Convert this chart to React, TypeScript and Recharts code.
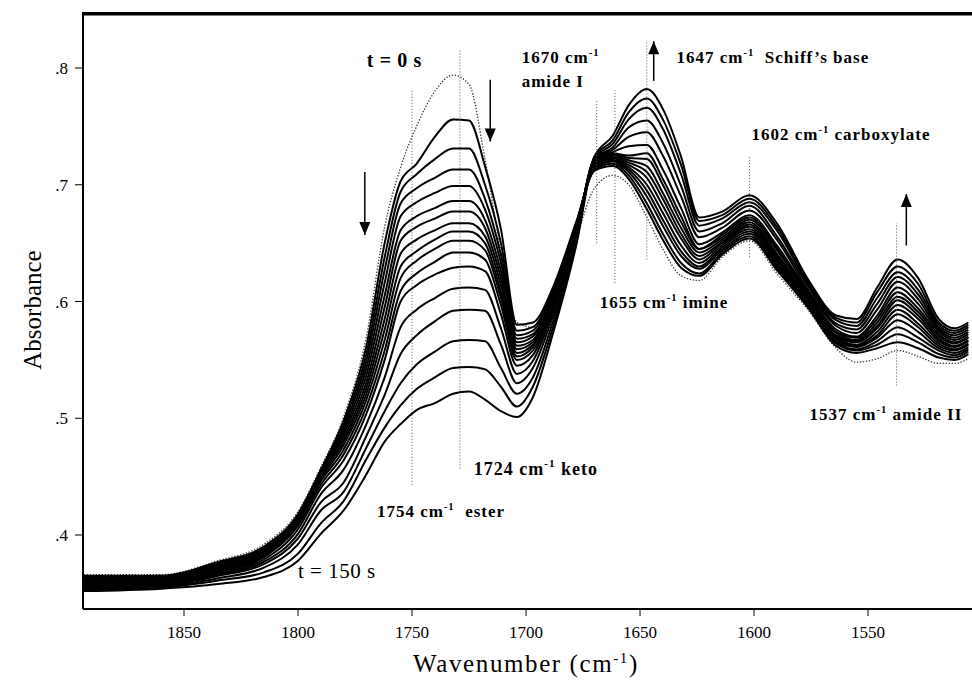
import { LineChart, Line, XAxis, YAxis, ReferenceLine, ReferenceDot } from "recharts";

const SERIF = "'Liberation Serif', 'Times New Roman', Times, serif";

// wavenumber grid (cm-1)
const wavenumbers = [
  1894, 1860, 1835, 1815, 1800, 1790, 1780, 1770, 1762, 1755, 1748, 1740, 1732, 1725, 1718, 1711, 1704, 1697, 1688,
  1678, 1670, 1662, 1655, 1647, 1640, 1632, 1624, 1614, 1602, 1590, 1576, 1564, 1555, 1546, 1537, 1528, 1519, 1512,
  1506,
];

// t = 0 s (dotted)
const s0 = [.366, .366, .378, .392, .420, .458, .501, .570, .664, .715, .750, .780, .794, .786, .722, .643, .582, .578, .607, .655, .697, .708, .700, .672, .645, .622, .618, .638, .652, .624, .592, .560, .548, .551, .558, .553, .547, .547, .551];
const s1 = [.365, .365, .377, .390, .418, .456, .498, .562, .650, .703, .718, .741, .756, .755, .716, .662, .580, .582, .613, .668, .712, .716, .705, .679, .653, .629, .622, .640, .654, .627, .594, .562, .556, .560, .565, .560, .552, .550, .555];
const s2 = [.364, .365, .376, .389, .417, .455, .495, .555, .638, .694, .709, .722, .731, .731, .700, .650, .575, .578, .611, .667, .713, .718, .708, .684, .658, .633, .624, .642, .656, .629, .595, .564, .558, .563, .572, .565, .555, .552, .557];
const s3 = [.364, .364, .375, .388, .416, .454, .492, .549, .627, .684, .697, .706, .713, .713, .688, .640, .571, .575, .609, .666, .714, .720, .711, .690, .665, .639, .628, .644, .658, .631, .596, .565, .559, .566, .578, .569, .558, .554, .559];
const s4 = [.363, .363, .374, .387, .415, .453, .489, .543, .616, .673, .685, .693, .699, .699, .679, .633, .568, .572, .607, .665, .715, .721, .713, .695, .670, .643, .630, .646, .660, .633, .597, .566, .561, .569, .584, .574, .560, .556, .561];
const s5 = [.362, .363, .373, .386, .414, .452, .486, .537, .605, .661, .673, .680, .686, .686, .670, .626, .565, .570, .605, .664, .716, .722, .715, .700, .676, .648, .633, .648, .662, .635, .599, .568, .562, .571, .589, .578, .562, .558, .563];
const s6 = [.361, .362, .372, .385, .413, .451, .483, .531, .595, .652, .664, .671, .677, .677, .663, .620, .562, .567, .604, .663, .717, .723, .717, .706, .682, .654, .636, .650, .664, .637, .600, .569, .563, .574, .593, .581, .564, .559, .564];
const s7 = [.361, .361, .371, .384, .412, .450, .480, .526, .585, .641, .653, .661, .667, .667, .656, .614, .559, .565, .603, .662, .718, .724, .719, .711, .688, .658, .639, .651, .666, .639, .601, .570, .565, .577, .597, .585, .566, .561, .566];
const s8 = [.360, .361, .370, .383, .411, .448, .477, .521, .576, .630, .643, .653, .660, .660, .650, .608, .556, .563, .601, .661, .719, .725, .721, .716, .693, .663, .642, .653, .668, .641, .602, .571, .566, .579, .601, .588, .568, .562, .567];
const s9 = [.359, .360, .369, .382, .410, .446, .473, .516, .567, .620, .635, .645, .652, .652, .644, .603, .553, .561, .600, .660, .720, .726, .723, .722, .700, .668, .645, .655, .670, .644, .604, .573, .567, .582, .604, .591, .570, .564, .569];
const s10 = [.358, .359, .368, .381, .408, .443, .469, .510, .558, .609, .624, .634, .642, .642, .636, .597, .550, .558, .598, .659, .721, .727, .725, .727, .705, .673, .645, .657, .672, .646, .605, .574, .569, .585, .608, .594, .572, .565, .570];
const s11 = [.357, .358, .367, .379, .405, .440, .464, .504, .550, .600, .614, .623, .629, .630, .626, .589, .545, .554, .596, .658, .722, .728, .733, .734, .713, .680, .649, .659, .674, .648, .607, .576, .570, .588, .612, .598, .574, .567, .572];
const s12 = [.356, .358, .366, .377, .401, .435, .456, .495, .535, .578, .593, .603, .611, .612, .610, .577, .538, .549, .593, .656, .722, .730, .741, .745, .725, .690, .655, .663, .678, .653, .609, .579, .573, .593, .617, .602, .576, .569, .574];
const s13 = [.355, .357, .365, .375, .397, .428, .445, .485, .520, .555, .571, .583, .592, .593, .592, .563, .530, .543, .589, .654, .723, .732, .749, .755, .736, .699, .660, .667, .682, .656, .612, .581, .576, .598, .621, .606, .578, .571, .576];
const s14 = [.354, .356, .363, .372, .392, .421, .437, .475, .506, .530, .546, .557, .566, .567, .566, .543, .521, .535, .584, .652, .723, .735, .756, .766, .748, .709, .665, .671, .685, .661, .614, .584, .579, .603, .625, .610, .580, .573, .578];
const s15 = [.353, .355, .361, .368, .384, .410, .429, .465, .492, .511, .525, .535, .543, .544, .542, .527, .510, .527, .579, .650, .724, .738, .762, .774, .756, .717, .669, .674, .688, .664, .616, .586, .582, .608, .630, .615, .582, .575, .580];
// t = 150 s
const s16 = [.352, .354, .358, .364, .378, .401, .421, .452, .480, .495, .507, .513, .521, .523, .516, .506, .501, .518, .574, .648, .724, .742, .768, .782, .765, .724, .672, .677, .691, .667, .618, .588, .585, .612, .636, .620, .585, .577, .582];

const spectra = [s0, s1, s2, s3, s4, s5, s6, s7, s8, s9, s10, s11, s12, s13, s14, s15, s16];

const xTicks = [1850, 1800, 1750, 1700, 1650, 1600, 1550];
const yTicks = [0.4, 0.5, 0.6, 0.7, 0.8];

// dotted band markers: wavenumber, low / high absorbance
const bandLines = [
  { w: 1750, lo: 0.443, hi: 0.781 },
  { w: 1729, lo: 0.457, hi: 0.816 },
  { w: 1669, lo: 0.65, hi: 0.773 },
  { w: 1661, lo: 0.616, hi: 0.781 },
  { w: 1647, lo: 0.636, hi: 0.824 },
  { w: 1602, lo: 0.638, hi: 0.724 },
  { w: 1537.5, lo: 0.528, hi: 0.667 },
];

const arrows = [
  { w: 1770.7, tail: 0.711, tip: 0.657 },
  { w: 1715.7, tail: 0.79, tip: 0.737 },
  { w: 1644, tail: 0.789, tip: 0.823 },
  { w: 1533.2, tail: 0.648, tip: 0.692 },
];

const notes = [
  { w: 1769.8, a: 0.801, head: "t = 0 s", size: 20, bold: true, ls: 0.6 },
  { w: 1701.9, a: 0.8043, head: "1670 cm", sup: "-1", size: 17, bold: true, ls: 1 },
  { w: 1701.9, a: 0.7837, head: "amide I", size: 17, bold: true, ls: 1 },
  { w: 1634, a: 0.8043, head: "1647 cm", sup: "-1", tail: "\u00a0\u00a0Schiff\u2019s base", size: 17, bold: true, ls: 1 },
  { w: 1601.1, a: 0.7383, head: "1602 cm", sup: "-1", tail: " carboxylate", size: 17, bold: true, ls: 1 },
  { w: 1667.7, a: 0.5944, head: "1655 cm", sup: "-1", tail: " imine", size: 17, bold: true, ls: 1 },
  { w: 1575.7, a: 0.4985, head: "1537 cm", sup: "-1", tail: " amide II", size: 17, bold: true, ls: 1 },
  { w: 1722.9, a: 0.4514, head: "1724 cm", sup: "-1", tail: " keto", size: 18, bold: true, ls: 1 },
  { w: 1765.4, a: 0.4154, head: "1754 cm", sup: "-1", tail: "\u00a0\u00a0ester", size: 17, bold: true, ls: 1 },
  { w: 1800, a: 0.3632, head: "t = 150 s", size: 21, bold: false, ls: 0.5 },
];

const data = wavenumbers.map((w, i) => {
  const row: Record<string, number> = { w };
  spectra.forEach((s, k) => {
    row[`s${k}`] = s[i];
  });
  return row;
});

const renderNote = (p: any, n: (typeof notes)[number]) => (
  <text
    x={p.cx}
    y={p.cy}
    fontFamily={SERIF}
    fontSize={n.size}
    fontWeight={n.bold ? 700 : 400}
    letterSpacing={n.ls}
    fill="#000"
    style={{ fontFamily: SERIF }}
  >
    {n.head}
    {n.sup && (
      <tspan dy={-n.size * 0.42} fontSize={n.size * 0.62}>
        {n.sup}
      </tspan>
    )}
    {n.tail && (
      <tspan dy={n.size * 0.42} fontSize={n.size}>
        {n.tail}
      </tspan>
    )}
  </text>
);

const renderHead = (p: any, up: boolean) => {
  const { cx, cy } = p;
  const b = up ? cy + 13 : cy - 13;
  return <polygon points={`${cx - 5.5},${b} ${cx + 5.5},${b} ${cx},${cy}`} fill="#000" />;
};

const XTick = (p: any) => (
  <text
    x={p.x}
    y={p.y}
    dy={12}
    textAnchor="middle"
    fontFamily={SERIF}
    fontSize={17}
    fill="#000"
    style={{ fontFamily: SERIF }}
  >
    {p.payload.value}
  </text>
);

const YTick = (p: any) => (
  <text
    x={p.x}
    y={p.y}
    dy={6}
    textAnchor="end"
    fontFamily={SERIF}
    fontSize={17}
    fill="#000"
    style={{ fontFamily: SERIF }}
  >
    {String(p.payload.value).replace(/^0/, "")}
  </text>
);

export default function App() {
  return (
    <div style={{ position: "absolute", left: 0, top: 0, width: 972, height: 692, background: "#fff" }}>
      <LineChart width={972} height={692} data={data} margin={{ top: 12, right: 0, bottom: 0, left: 0 }}>
        <XAxis
          dataKey="w"
          type="number"
          domain={[1504.4, 1894.3]}
          reversed
          ticks={xTicks}
          height={83}
          tickSize={7}
          tickMargin={10}
          axisLine={{ stroke: "#000", strokeWidth: 2 }}
          tickLine={{ stroke: "#000" }}
          tick={<XTick />}
          allowDataOverflow
        />
        <YAxis
          type="number"
          domain={[0.3366, 0.848]}
          ticks={yTicks}
          width={83}
          tickSize={8}
          tickMargin={7}
          axisLine={{ stroke: "#000", strokeWidth: 2 }}
          tickLine={{ stroke: "#000" }}
          tick={<YTick />}
          allowDataOverflow
        />
        <ReferenceLine y={0.8466} stroke="#000" strokeWidth={3.5} />
        {spectra.map((_, k) => (
          <Line
            key={k}
            dataKey={`s${k}`}
            type="monotone"
            stroke={k === 0 ? "#333" : "#000"}
            strokeWidth={k === 0 ? 1.3 : 2}
            strokeDasharray={k === 0 ? "1.3 1.7" : undefined}
            dot={false}
            isAnimationActive={false}
          />
        ))}
        {bandLines.map((b, i) => (
          <ReferenceLine
            key={`b${i}`}
            segment={[
              { x: b.w, y: b.lo },
              { x: b.w, y: b.hi },
            ]}
            stroke="#555"
            strokeWidth={1}
            strokeDasharray="1 2"
            ifOverflow="visible"
          />
        ))}
        {arrows.map((a, i) => (
          <ReferenceLine
            key={`a${i}`}
            segment={[
              { x: a.w, y: a.tail },
              { x: a.w, y: a.tip },
            ]}
            stroke="#000"
            strokeWidth={1.5}
            ifOverflow="visible"
          />
        ))}
        {arrows.map((a, i) => (
          <ReferenceDot
            key={`h${i}`}
            x={a.w}
            y={a.tip}
            ifOverflow="visible"
            shape={(p: any) => renderHead(p, a.tip > a.tail)}
          />
        ))}
        {notes.map((n, i) => (
          <ReferenceDot key={`n${i}`} x={n.w} y={n.a} ifOverflow="visible" shape={(p: any) => renderNote(p, n)} />
        ))}
      </LineChart>
      <div
        style={{
          position: "absolute",
          left: 33,
          top: 310,
          transform: "translate(-50%, -50%) rotate(-90deg)",
          fontFamily: SERIF,
          fontSize: 25,
          whiteSpace: "nowrap",
        }}
      >
        Absorbance
      </div>
      <div
        style={{
          position: "absolute",
          left: 526,
          top: 664,
          transform: "translate(-50%, -50%)",
          fontFamily: SERIF,
          fontSize: 25,
          letterSpacing: 1.6,
          whiteSpace: "nowrap",
        }}
      >
        Wavenumber (cm<sup style={{ fontSize: 15 }}>-1</sup>)
      </div>
    </div>
  );
}
